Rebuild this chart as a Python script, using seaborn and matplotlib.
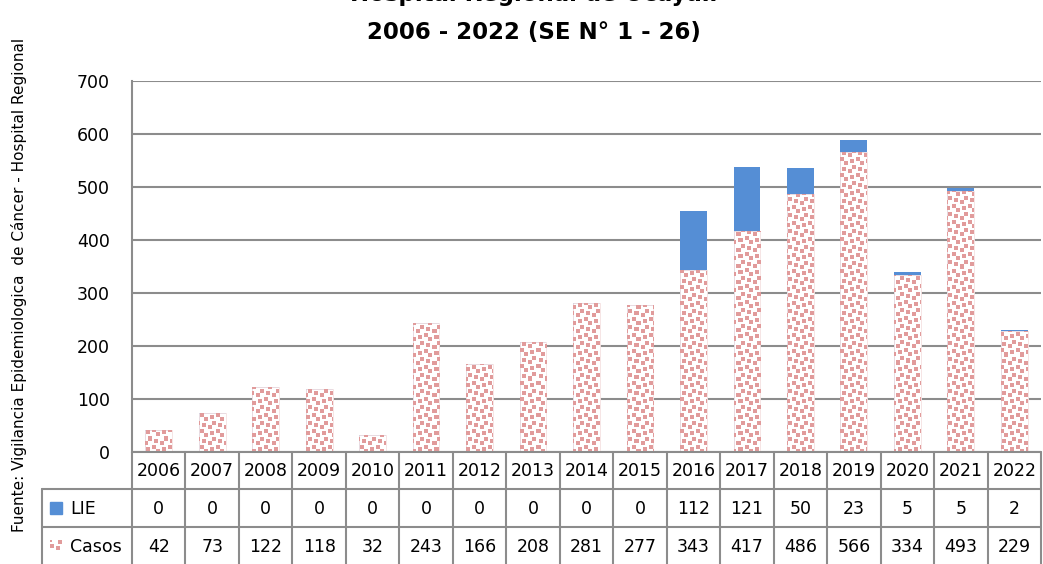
import numpy as np
import seaborn as sns
import matplotlib.pyplot as plt
from matplotlib.patches import Rectangle

# datos
anios = ["2006", "2007", "2008", "2009", "2010", "2011", "2012", "2013", "2014",
         "2015", "2016", "2017", "2018", "2019", "2020", "2021", "2022"]
lie = [0, 0, 0, 0, 0, 0, 0, 0, 0, 0, 112, 121, 50, 23, 5, 5, 2]
casos = [42, 73, 122, 118, 32, 243, 166, 208, 281, 277, 343, 417, 486, 566, 334, 493, 229]
series = ["LIE", "Casos"]
titulo1 = "Hospital Regional de Ucayali"
titulo2 = "2006 - 2022 (SE N° 1 - 26)"
fuente = "Fuente: Vigilancia Epidemiologica  de Cáncer - Hospital Regional"

azul = "#558ED5"
rosa = "#E19B9B"
gris = "#8C8C8C"

total = [a + b for a, b in zip(lie, casos)]

sns.set_theme(style="white")
plt.rcParams["font.family"] = ["DejaVu Sans"]
plt.rcParams["text.color"] = "black"

W, H = 1043, 564
fig = plt.figure(figsize=(W / 100, H / 100), dpi=100)
ax_l, ax_r, ax_t, ax_b = 132, 1041, 81, 452
ax = fig.add_axes([ax_l / W, 1 - ax_b / H, (ax_r - ax_l) / W, (ax_b - ax_t) / H])

# barras apiladas: total (azul) y casos encima
sns.barplot(x=anios, y=total, color=azul, saturation=1, width=0.5,
            linewidth=0, ax=ax)
sns.barplot(x=anios, y=casos, color="white", saturation=1, width=0.5,
            edgecolor="#F5E0E0", linewidth=0.6, ax=ax)

ax.set_ylim(0, 700)
ax.set_xlim(-0.5, len(anios) - 0.5)
ax.set_yticks(range(0, 701, 100))
ax.yaxis.grid(True, color=gris, linewidth=1.5)
ax.set_axisbelow(True)
for s in ["top", "right", "bottom"]:
    ax.spines[s].set_visible(False)
ax.spines["left"].set_color(gris)
ax.spines["left"].set_linewidth(1.5)
ax.tick_params(axis="y", length=0, pad=16, labelsize=12.5, labelcolor="black")
ax.tick_params(axis="x", length=0, labelbottom=False)
ax.set_xlabel("")
ax.set_ylabel("")

# trama "confeti" para la serie Casos
bits = [0x8D, 0x0C, 0xC0, 0xD8, 0x1B, 0x03, 0x30, 0xB1]
tile = np.array([[(b >> (7 - i)) & 1 for i in range(8)] for b in bits])
tile = np.kron(tile, np.ones((2, 2)))


def confeti(h, w):
    m = np.tile(tile, (h // 16 + 1, w // 16 + 1))[:h, :w]
    rgba = np.zeros((h, w, 4))
    rgba[..., :3] = [int(rosa[i:i + 2], 16) / 255 for i in (1, 3, 5)]
    rgba[..., 3] = m
    return rgba


img = confeti(ax_b - ax_t, ax_r - ax_l)
xl, yl = ax.get_xlim(), ax.get_ylim()
for p in ax.patches[len(anios):]:
    im = ax.imshow(img, extent=(xl[0], xl[1], yl[0], yl[1]), aspect="auto",
                   interpolation="nearest", zorder=3)
    im.set_clip_path(p)
ax.set_xlim(xl)
ax.set_ylim(yl)

# tabla de datos (en pixeles sobre un eje transparente)
tx = fig.add_axes([0, 0, 1, 1], facecolor="none")
tx.set_xlim(0, W)
tx.set_ylim(H, 0)
tx.axis("off")
cw = (ax_r - ax_l) / len(anios)
tab_l = 42
ys = [452, 489, 527, 566]
lw = 1.5
tx.plot([ax_l, ax_r], [ys[0], ys[0]], color=gris, lw=lw)
for y in ys[1:]:
    tx.plot([tab_l, ax_r], [y, y], color=gris, lw=lw)
tx.plot([tab_l, tab_l], [ys[1], ys[3]], color=gris, lw=lw)
for k in range(len(anios) + 1):
    x = ax_l + k * cw
    tx.plot([x, x], [ys[0], ys[3]], color=gris, lw=lw)
filas = [anios, [str(v) for v in lie], [str(v) for v in casos]]
for r, fila in enumerate(filas):
    yc = (ys[r] + ys[r + 1]) / 2 + 1
    for c, t in enumerate(fila):
        tx.text(ax_l + (c + 0.5) * cw, yc, t, ha="center", va="center", fontsize=12.5)

# leyenda dentro de la tabla
tx.add_patch(Rectangle((50, 502), 12, 12, color=azul))
key = confeti(12, 12)
key[..., 3] = np.where(key[..., 3] > 0, 1, 0)
fig.figimage(key, xo=50, yo=H - 552, zorder=5)
for nombre, r in zip(series, [1, 2]):
    tx.text(70, (ys[r] + ys[r + 1]) / 2 + 1, nombre, ha="left", va="center", fontsize=12.5)

# titulos
fig.text(534 / W, 1 - 1 / H, titulo1, ha="center", va="baseline",
         fontsize=16.5, fontweight="bold")
fig.text(534 / W, 1 - 39 / H, titulo2, ha="center", va="baseline",
         fontsize=16.5, fontweight="bold")
fig.text(19 / W, 1 - 285 / H, fuente, ha="center", va="center",
         rotation=90, fontsize=11)

fig.savefig("out.png", dpi=100)
